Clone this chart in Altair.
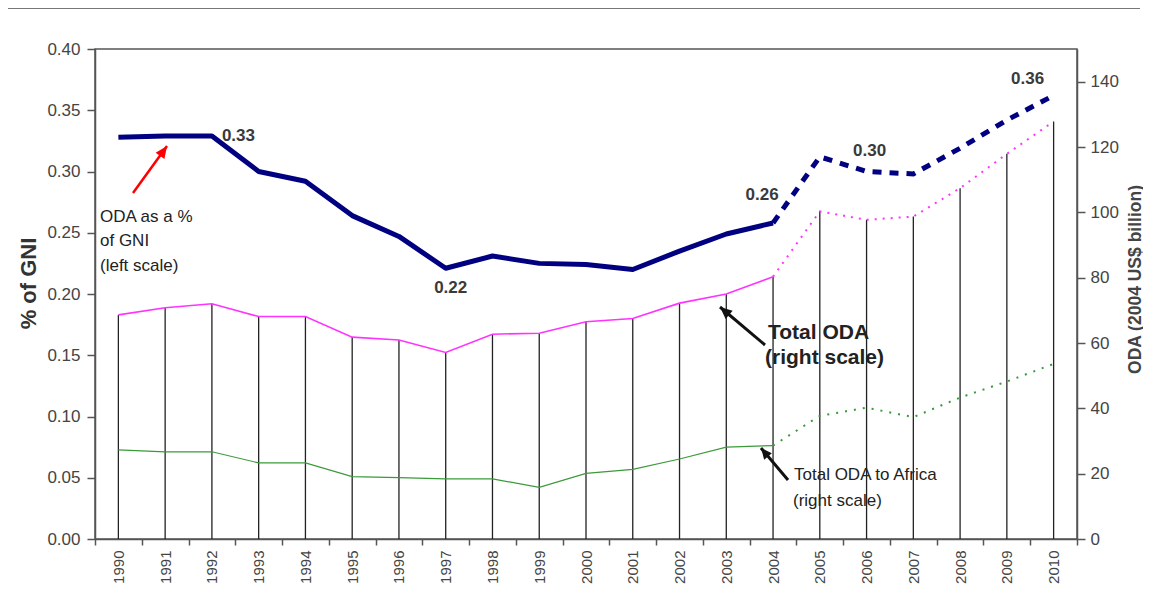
import altair as alt
import pandas as pd

# ---------------- data ----------------
years = [str(y) for y in range(1990, 2011)]
oda_gni = [0.328, 0.329, 0.329, 0.300, 0.292, 0.264, 0.247, 0.221, 0.231, 0.225,
           0.224, 0.220, 0.235, 0.249, 0.258, 0.312, 0.300, 0.298, 0.319, 0.342, 0.362]
total_oda = [68.6, 70.8, 72.0, 68.1, 68.1, 61.8, 60.9, 57.1, 62.7, 63.0,
             66.5, 67.5, 72.2, 75.0, 80.3, 100.3, 97.7, 98.7, 107.4, 117.9, 127.8]
africa_oda = [27.3, 26.7, 26.7, 23.3, 23.3, 19.1, 18.8, 18.4, 18.4, 15.8,
              20.1, 21.3, 24.5, 28.1, 28.6, 37.7, 40.2, 37.3, 43.3, 48.2, 53.6]
last_actual = "2004"  # solid up to here, projections after

label_years = ["1992", "1997", "2004", "2006", "2010"]
label_texts = ["0.33", "0.22", "0.26", "0.30", "0.36"]

left_ticks = [0.0, 0.05, 0.1, 0.15, 0.2, 0.25, 0.3, 0.35, 0.4]
right_ticks = [0, 20, 40, 60, 80, 100, 120, 140]

FONT = "Liberation Sans"
W, H = 982, 490

split = years.index(last_actual)


def frame(values, lo, hi):
    return pd.DataFrame({"year": years[lo:hi], "v": values[lo:hi]})


x_scale = alt.Scale(type="band", paddingInner=0, paddingOuter=0, domain=years)
x_axis = alt.Axis(title=None, labelAngle=270, tickBand="extent", tickSize=6,
                  labelFontSize=15, labelPadding=5)


def xenc():
    return alt.X("year:N", scale=x_scale, axis=x_axis, bandPosition=0.5)


left_scale = alt.Scale(domain=[0, 0.4], nice=False, zero=True)
left_axis = alt.Axis(orient="left", values=left_ticks, format=".2f", title="% of GNI",
                     titleAngle=270, titleX=-67, titleY=234, titleFontSize=22,
                     titleFontWeight="bold", titleAlign="center", titleBaseline="middle",
                     labelFontSize=17, tickSize=8, labelPadding=7)
right_scale = alt.Scale(domain=[0, 150], nice=False, zero=True)
right_axis = alt.Axis(orient="right", values=right_ticks, title="ODA (2004 US$ billion)",
                      titleAngle=270, titleX=58, titleY=230, titleFontSize=17.5,
                      titleFontWeight="bold", titleColor="#444", titleAlign="center",
                      titleBaseline="middle", labelFontSize=17, tickSize=8, labelPadding=5)


def yl():
    return alt.Y("v:Q", scale=left_scale, axis=left_axis)


def yr():
    return alt.Y("v:Q", scale=right_scale, axis=right_axis)


# ---------------- left scale: ODA as % of GNI ----------------
blue_solid = alt.Chart(frame(oda_gni, 0, split + 1)).mark_line(
    color="#000080", strokeWidth=5, strokeJoin="round").encode(x=xenc(), y=yl())
blue_dash = alt.Chart(frame(oda_gni, split, len(years))).mark_line(
    color="#000080", strokeWidth=5, strokeDash=[9, 8]).encode(x=xenc(), y=yl())

label_offsets = {"1992": ("left", 10, 1), "1997": ("center", 5, 18),
                 "2004": ("center", -11, -26), "2006": ("center", 3, -21),
                 "2010": ("center", -26, -19)}
label_layers = []
for yr_, txt in zip(label_years, label_texts):
    align, dx, dy = label_offsets[yr_]
    d = pd.DataFrame({"year": [yr_], "v": [float(txt)], "t": [txt]})
    label_layers.append(
        alt.Chart(d).mark_text(font=FONT, fontSize=17, fontWeight=600, color="#3a3a3a",
                               align=align, baseline="middle", dx=dx, dy=dy)
        .encode(x=xenc(), y=yl(), text="t:N"))

left = alt.layer(blue_solid, blue_dash, *label_layers)

# ---------------- right scale: total ODA and ODA to Africa ----------------
drops = alt.Chart(frame(total_oda, 0, len(years))).mark_rule(
    color="#222", strokeWidth=1.3).encode(x=xenc(), y=yr(), y2=alt.datum(0))
pink_solid = alt.Chart(frame(total_oda, 0, split + 1)).mark_line(
    color="#ff33ff", strokeWidth=1.6).encode(x=xenc(), y=yr())
pink_dot = alt.Chart(frame(total_oda, split, len(years))).mark_line(
    color="#ff33ff", strokeWidth=2, strokeDash=[2, 6]).encode(x=xenc(), y=yr())
green_solid = alt.Chart(frame(africa_oda, 0, split + 1)).mark_line(
    color="#3a9a3a", strokeWidth=1.2).encode(x=xenc(), y=yr())
green_dot = alt.Chart(frame(africa_oda, split, len(years))).mark_line(
    color="#3a9a3a", strokeWidth=2, strokeDash=[2, 7]).encode(x=xenc(), y=yr())

right = alt.layer(drops, pink_solid, pink_dot, green_solid, green_dot)

# ---------------- annotations ----------------
one = pd.DataFrame({"a": [0]})


def note(text, x, y, size=17, weight="normal", align="left"):
    return alt.Chart(one).mark_text(text=text, font=FONT, fontSize=size, fontWeight=weight,
                                    color="#222", align=align, baseline="middle").encode(
        x=alt.value(x), y=alt.value(y))


ARROW = "M0,0L-0.45,1L0.45,1Z"


def arrow(x1, y1, x2, y2, angle, color, width, size):
    shaft = alt.Chart(one).mark_rule(color=color, strokeWidth=width).encode(
        x=alt.value(x1), y=alt.value(y1), x2=alt.value(x2), y2=alt.value(y2))
    head = alt.Chart(one).mark_point(shape=ARROW, filled=True, color=color, opacity=1,
                                     strokeWidth=0, size=size, angle=angle).encode(
        x=alt.value(x2), y=alt.value(y2))
    return [shaft, head]


notes = [
    note("ODA as a %", 5, 168),
    note("of GNI", 5, 192),
    note("(left scale)", 5, 217),
    note("Total ODA", 673, 284, size=21, weight="bold"),
    note("(right scale)", 670, 309, size=21, weight="bold"),
    note("Total ODA to Africa", 699, 426),
    note("(right scale)", 698, 452),
]
arrows = (arrow(38, 144, 72, 97, 35.5, "#ff0000", 2.5, 576)
          + arrow(670, 296, 625, 258, 310.4, "#111", 3, 576)
          + arrow(693, 431, 666, 399, 320.5, "#111", 3, 484))

top_line = alt.Chart(one).mark_rule(color="#777", strokeWidth=2).encode(
    x=alt.value(-87), x2=alt.value(1045), y=alt.value(-41))

chart = alt.layer(right, left, *notes, *arrows, top_line).resolve_scale(
    y="independent"
).properties(
    width=W, height=H,
    autosize=alt.AutoSizeParams(type="none"),
    padding={"left": 87, "top": 41, "right": 66, "bottom": 48},
).configure_view(
    stroke="#555", strokeWidth=1.5
).configure_axis(
    labelFont=FONT, titleFont=FONT, labelColor="#444", titleColor="#333",
    domainColor="#555", tickColor="#555", domainWidth=1.5, tickWidth=1.5, grid=False
)

chart.save("out.html", embed_options={"renderer": "svg", "actions": False})
